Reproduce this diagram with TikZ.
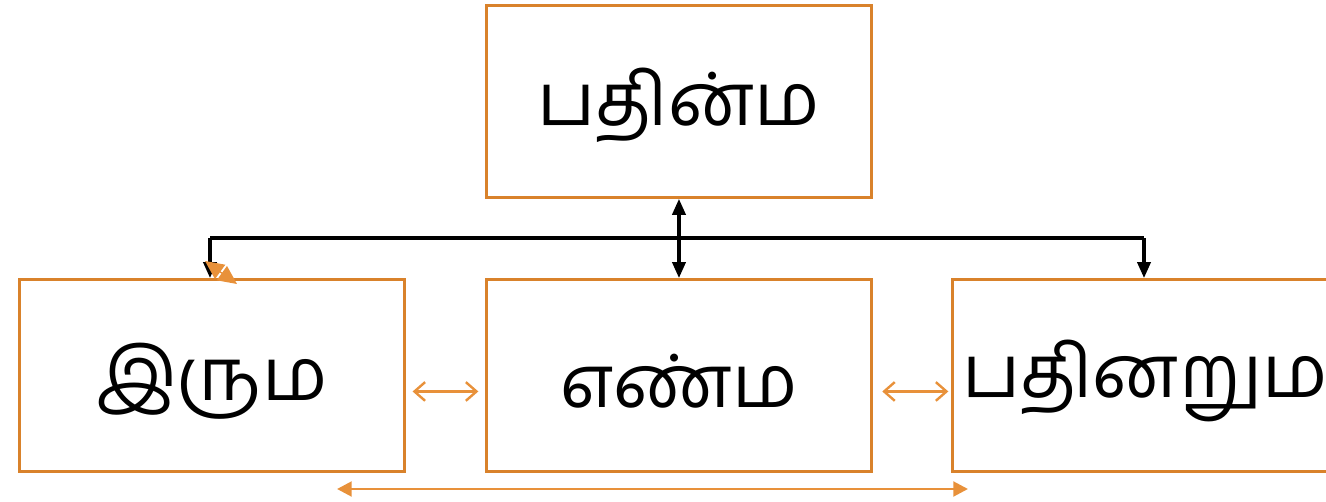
\documentclass[tikz,border=0pt]{standalone}
\usepackage{fontspec}
\newfontfamily\tamilfont[Script=Tamil]{Hind Madurai}
\usetikzlibrary{arrows.meta}
\definecolor{boxorange}{HTML}{D9822B}
\definecolor{arrorange}{HTML}{E8913A}
\begin{document}
\begin{tikzpicture}[x=0.75pt,y=-0.75pt,
  box/.style={draw=boxorange,line width=2.2pt,minimum width=385*0.75pt,minimum height=192*0.75pt,inner sep=0pt,anchor=north west},
  lbl/.style={font=\tamilfont\fontsize{55}{60}\selectfont,inner sep=0pt},
  blk/.style={draw=black,line width=2.3pt,-{Triangle[length=12pt,width=10pt]}},
  blk2/.style={draw=black,line width=2.3pt,{Triangle[length=12pt,width=10pt]}-{Triangle[length=12pt,width=10pt]}},
  oarr/.style={draw=arrorange,line width=1.8pt,{Straight Barb[length=8pt,width=14pt]}-{Straight Barb[length=8pt,width=14pt]}},
  oarrf/.style={draw=arrorange,line width=2.2pt,{Triangle[length=11pt,width=11pt]}-{Triangle[length=11pt,width=11pt]}}]
\useasboundingbox (0,0) rectangle (1326,502);
\clip (0,0) rectangle (1326,502);
\node[box] (top) at (485,4) {};
\node[box] (l) at (18,278) {};
\node[box] (m) at (485,278) {};
\node[box] (r) at (951,278) {};
\node[lbl] (tt) at ([yshift=-3pt]top.center) {பதின்ம};
\node[lbl] (lt) at ([yshift=-4pt]l.center) {இரும};
\node[lbl] (mt) at ([yshift=-4pt]m.center) {எண்ம};
\node[lbl] (rt) at ([yshift=-4pt]r.center) {பதினறும};
\coordinate (hl) at (210,238);
\coordinate (hr) at (1144,238);
\draw[line width=2.3pt] (hl) -- (hr);
\draw[blk] (hl) -- (l.north -| hl);
\draw[blk] (hr) -- (r.north -| hr);
\draw[blk2] (top.south) -- (m.north);
\coordinate (sa) at (205,261);
\coordinate (sb) at (237,284);
\draw[arrorange,line width=1pt,{Triangle[length=14pt,width=13pt]}-{Triangle[length=14pt,width=13pt]}] (sa) -- (sb);
\draw[oarr] ([xshift=5pt,yshift=-12pt]l.east) -- ([xshift=-5pt,yshift=-12pt]m.west);
\draw[oarr] ([xshift=7pt,yshift=-12pt]m.east) -- ([xshift=-2pt,yshift=-12pt]r.west);
\coordinate (ba) at (337,489);
\coordinate (bb) at (968,489);
\draw[oarrf] (ba) -- (bb);
\end{tikzpicture}
\end{document}
